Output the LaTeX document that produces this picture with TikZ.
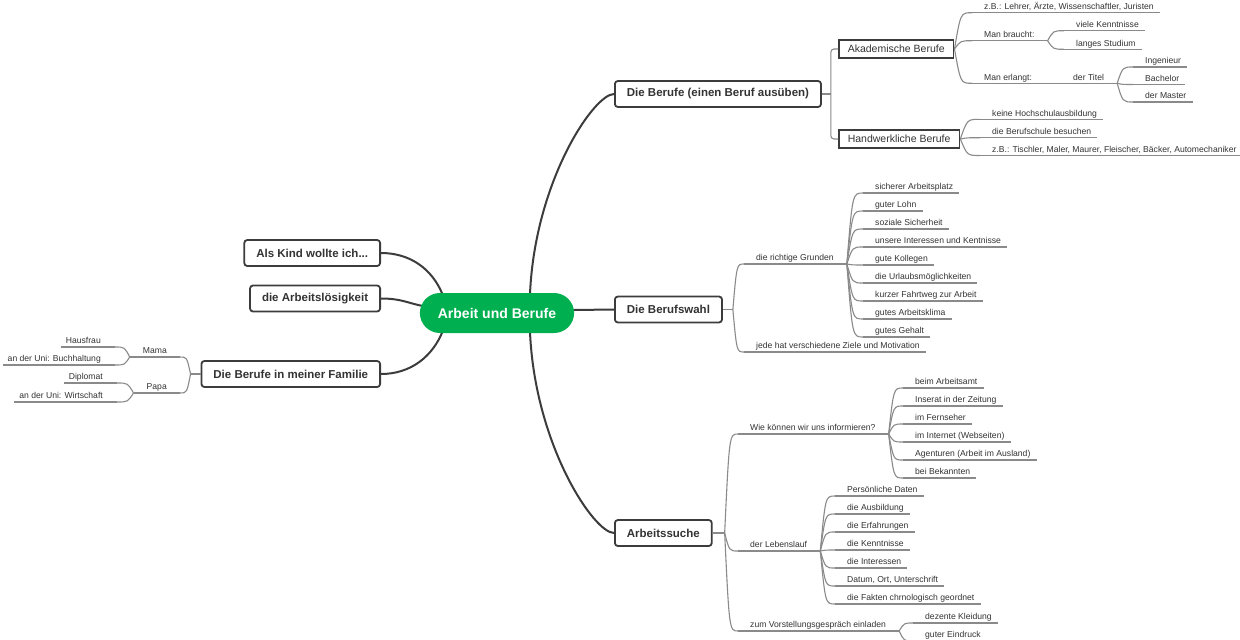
\documentclass[tikz,border=0pt]{standalone}
\usepackage{fontspec}
\setmainfont{Liberation Sans}
\usetikzlibrary{calc,backgrounds}
\definecolor{mgreen}{HTML}{00B050}
\definecolor{dline}{HTML}{3C3C3C}
\definecolor{tline}{HTML}{8A8A8A}
\definecolor{txt}{HTML}{333333}
\newcommand\mmfan[2]{\draw[sublink] let \p1=(#1), \p2=(#2) in (\p1) .. controls ({\x1+0.35*(\x2-\x1)},\y2) .. (\p2);}
\begin{document}
\begin{tikzpicture}[x=1pt,y=-1pt,
  mainlink/.style={draw=dline, line width=2pt},
  sublink/.style={draw=tline, line width=1.1pt},
  central/.style={fill=mgreen, text=white, font=\fontsize{14}{16}\selectfont\bfseries, rounded corners=20pt, minimum height=40pt, inner xsep=18pt, inner ysep=0pt},
  topicbox/.style={draw=dline, line width=1.8pt, fill=white, rounded corners=3pt, font=\fontsize{11.5}{13}\selectfont\bfseries, text=txt, minimum height=26pt, inner xsep=12pt, inner ysep=0pt},
  subbox/.style={draw=dline, line width=1.6pt, fill=white, font=\fontsize{10.5}{12}\selectfont, text=txt, minimum height=18pt, inner xsep=9pt, inner ysep=0pt},
  lfbase/.style={font=\fontsize{8.6}{10}\selectfont, text=txt, inner xsep=0pt, inner ysep=1.5pt, text height=6.5pt, text depth=1.5pt,
     append after command={(\tikzlastnode.south west) edge[sublink] (\tikzlastnode.south east)}},
  lf/.style={lfbase, anchor=south west, execute at begin node={\hspace*{12pt}}, execute at end node={\hspace*{6pt}}},
  md/.style={lfbase, anchor=south west, execute at begin node={\hspace*{12pt}}, execute at end node={\hspace*{13pt}}},
  lfl/.style={lfbase, anchor=south east, execute at begin node={\hspace*{5pt}}, execute at end node={\hspace*{14pt}}},
  mdl/.style={lfbase, anchor=south east, execute at begin node={\hspace*{13pt}}, execute at end node={\hspace*{13pt}}}
]
\useasboundingbox (0,0) rectangle (1240,640);

% main topics
\node[central] (c) at (497,313) {Arbeit und Berufe};
\node[topicbox, anchor=west] (b1) at (614,94) {Die Berufe (einen Beruf ausüben)};
\node[topicbox, anchor=west] (bw) at (614,309.5) {Die Berufswahl};
\node[topicbox, anchor=west] (as) at (614,533) {Arbeitssuche};
\node[topicbox, anchor=east] (kind) at (381,253) {Als Kind wollte ich...};
\node[topicbox, anchor=east] (alos) at (381,298.5) {die Arbeitslösigkeit};
\node[topicbox, anchor=east] (fam) at (381,374) {Die Berufe in meiner Familie};

\begin{scope}[on background layer]
\fill[white] (0,0) rectangle (1240,640);
\draw[mainlink] ($(c.north)+(33,1)$) .. controls +(5,-113) and +(-20,0) .. (b1.west);
\draw[mainlink] ($(c.south)+(33,-1)$) .. controls +(5,113) and +(-20,0) .. (as.west);
\draw[mainlink] ($(c.east)+(-2,-3)$) .. controls +(17,0) and +(-15,0) .. (bw.west);
\draw[mainlink] (kind.east) .. controls +(30,0) and +(-10,-25) .. ($(c.north west)+(23,2)$);
\draw[mainlink] (alos.east) .. controls +(20,0) and +(-15,-3) .. ($(c.west)+(3,-7)$);
\draw[mainlink] (fam.east) .. controls +(30,0) and +(-10,25) .. ($(c.south west)+(23,-2)$);
\end{scope}

% Die Berufe (einen Beruf ausueben)
\node[subbox, anchor=west] (ak) at (838,49) {Akademische Berufe};
\node[subbox, anchor=west] (hw) at (838,139) {Handwerkliche Berufe};
\draw[sublink] (b1.east) -- ++(9,0) coordinate (b1f);
\draw[sublink, rounded corners=3pt] (ak.west) -| (b1f);
\draw[sublink, rounded corners=3pt] (hw.west) -| (b1f);

\node[lf] (ak1) at (972,12.7) {z.B.: Lehrer, Ärzte, Wissenschaftler, Juristen};
\node[md] (ak2) at (972,40.7) {Man braucht:};
\node[lf] (ak21) at (1064,30.7) {viele Kenntnisse};
\node[lf] (ak22) at (1064,49.3) {langes Studium};
\node[md] (ak3) at (972,83.3) {Man erlangt:};
\node[md] (ak31) at (1061,83.3) {der Titel};
\node[lf] (t1) at (1133,67) {Ingenieur};
\node[lf] (t2) at (1133,84.5) {Bachelor};
\node[lf] (t3) at (1133,102) {der Master};
\mmfan{ak.east}{ak1.south west}
\mmfan{ak.east}{ak2.south west}
\mmfan{ak.east}{ak3.south west}
\mmfan{ak2.south east}{ak21.south west}
\mmfan{ak2.south east}{ak22.south west}
\draw[sublink] (ak3.south east) -- (ak31.south west);
\mmfan{ak31.south east}{t1.south west}
\mmfan{ak31.south east}{t2.south west}
\mmfan{ak31.south east}{t3.south west}

\node[lf] (hw1) at (980,119.3) {keine Hochschulausbildung};
\node[lf] (hw2) at (980,137.7) {die Berufschule besuchen};
\node[lf] (hw3) at (980,155.5) {z.B.: Tischler, Maler, Maurer, Fleischer, Bäcker, Automechaniker};
\mmfan{hw.east}{hw1.south west}
\mmfan{hw.east}{hw2.south west}
\mmfan{hw.east}{hw3.south west}

% Die Berufswahl
\draw[sublink] (bw.east) -- ++(10,0) coordinate (bwf);
\node[md] (g) at (744,264) {die richtige Grunden};
\node[lf] (j) at (744,352) {jede hat verschiedene Ziele und Motivation};
\mmfan{bwf}{g.south west}
\mmfan{bwf}{j.south west}
\node[lf] (g1) at (863,193) {sicherer Arbeitsplatz};
\node[lf] (g2) at (863,211) {guter Lohn};
\node[lf] (g3) at (863,229) {soziale Sicherheit};
\node[lf] (g4) at (863,247) {unsere Interessen und Kentnisse};
\node[lf] (g5) at (863,265) {gute Kollegen};
\node[lf] (g6) at (863,283) {die Urlaubsmöglichkeiten};
\node[lf] (g7) at (863,301) {kurzer Fahrtweg zur Arbeit};
\node[lf] (g8) at (863,319) {gutes Arbeitsklima};
\node[lf] (g9) at (863,337) {gutes Gehalt};
\foreach \i in {1,...,9} {\mmfan{g.south east}{g\i.south west}}

% Arbeitssuche
\draw[sublink] (as.east) -- ++(12,0) coordinate (asf);
\node[md] (w) at (738,434) {Wie können wir uns informieren?};
\node[md] (l) at (738,551) {der Lebenslauf};
\node[md] (v) at (738,631) {zum Vorstellungsgespräch einladen};
\mmfan{asf}{w.south west}
\mmfan{asf}{l.south west}
\mmfan{asf}{v.south west}
\node[lf] (w1) at (903,388) {beim Arbeitsamt};
\node[lf] (w2) at (903,406) {Inserat in der Zeitung};
\node[lf] (w3) at (903,424) {im Fernseher};
\node[lf] (w4) at (903,442) {im Internet (Webseiten)};
\node[lf] (w5) at (903,460) {Agenturen (Arbeit im Ausland)};
\node[lf] (w6) at (903,478) {bei Bekannten};
\foreach \i in {1,...,6} {\mmfan{w.south east}{w\i.south west}}
\node[lf] (l1) at (835,496) {Persönliche Daten};
\node[lf] (l2) at (835,514) {die Ausbildung};
\node[lf] (l3) at (835,532) {die Erfahrungen};
\node[lf] (l4) at (835,550) {die Kenntnisse};
\node[lf] (l5) at (835,568) {die Interessen};
\node[lf] (l6) at (835,586) {Datum, Ort, Unterschrift};
\node[lf] (l7) at (835,604) {die Fakten chrnologisch geordnet};
\foreach \i in {1,...,7} {\mmfan{l.south east}{l\i.south west}}
\node[lf] (v1) at (913,623) {dezente Kleidung};
\node[lf] (v2) at (913,641) {guter Eindruck};
\mmfan{v.south east}{v1.south west}
\mmfan{v.south east}{v2.south west}

% Familie
\draw[sublink] (fam.west) -- ++(-10,0) coordinate (famf);
\node[mdl] (mama) at (180,357) {Mama};
\node[mdl] (papa) at (180,393) {Papa};
\mmfan{famf}{mama.south east}
\mmfan{famf}{papa.south east}
\node[lfl] (h1) at (115,347) {Hausfrau};
\node[lfl] (h2) at (115,365) {an der Uni: Buchhaltung};
\node[lfl] (d1) at (117,383) {Diplomat};
\node[lfl] (d2) at (117,402) {an der Uni: Wirtschaft};
\mmfan{mama.south west}{h1.south east}
\mmfan{mama.south west}{h2.south east}
\mmfan{papa.south west}{d1.south east}
\mmfan{papa.south west}{d2.south east}
\end{tikzpicture}
\end{document}
